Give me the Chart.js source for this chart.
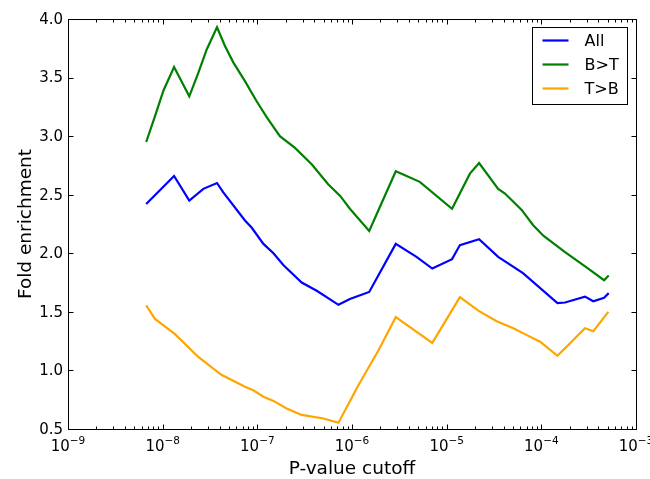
<!DOCTYPE html>
<html>
<head>
<meta charset="utf-8">
<script src="https://cdn.jsdelivr.net/npm/chart.js@4.4.1/dist/chart.umd.min.js"></script>
<style>
  html, body { margin: 0; padding: 0; background: #fff; }
  canvas { display: block; }
</style>
</head>
<body>
<canvas id="chart" width="650" height="479"></canvas>
<script>
// ─── DATA ───────────────────────────────────────────────────────────────────
const ALL_P = [6.7e-9, 1.32e-8, 1.91e-8, 2.69e-8, 3.75e-8, 4.37e-8, 7.4e-8, 8.7e-8,
  1.16e-7, 1.48e-7, 1.88e-7, 2.94e-7, 4.24e-7, 7.2e-7, 9.5e-7, 1.52e-6, 2.9e-6,
  4.8e-6, 7.05e-6, 1.14e-5, 1.38e-5, 2.2e-5, 3.5e-5, 6.4e-5, 1.48e-4, 1.78e-4,
  2.89e-4, 3.54e-4, 4.6e-4, 5.15e-4];
const ALL_Y = [2.42, 2.66, 2.45, 2.55, 2.60, 2.52, 2.28, 2.22,
  2.08, 2.00, 1.90, 1.75, 1.68, 1.56, 1.61, 1.67, 2.08,
  1.97, 1.87, 1.95, 2.07, 2.12, 1.97, 1.83, 1.575, 1.58,
  1.63, 1.59, 1.62, 1.66];

const BT_P = [6.7e-9, 8.3e-9, 1.02e-8, 1.32e-8, 1.91e-8, 2.38e-8, 2.92e-8, 3.75e-8,
  4.55e-8, 5.57e-8, 7.4e-8, 9.8e-8, 1.26e-7, 1.73e-7, 2.5e-7, 3.75e-7, 5.6e-7,
  7.5e-7, 9.5e-7, 1.52e-6, 2.9e-6, 5.2e-6, 1.14e-5, 1.76e-5, 2.2e-5, 3.5e-5,
  4.13e-5, 6.2e-5, 8.2e-5, 1.05e-4, 1.78e-4, 3.0e-4, 4.6e-4, 5.15e-4];
const BT_Y = [2.95, 3.17, 3.39, 3.59, 3.34, 3.54, 3.74, 3.93,
  3.77, 3.63, 3.47, 3.30, 3.16, 3.00, 2.90, 2.76, 2.59,
  2.49, 2.38, 2.19, 2.70, 2.61, 2.38, 2.68, 2.77, 2.55,
  2.51, 2.37, 2.24, 2.15, 2.01, 1.88, 1.77, 1.81];

const TB_P = [6.7e-9, 8.3e-9, 1.35e-8, 2.38e-8, 4.13e-8, 7.4e-8, 9.06e-8, 1.16e-7,
  1.48e-7, 2.04e-7, 2.94e-7, 4.98e-7, 7.2e-7, 1.16e-6, 1.9e-6, 2.9e-6, 7.05e-6,
  1.38e-5, 2.16e-5, 3.37e-5, 5.06e-5, 6.7e-5, 9.7e-5, 1.48e-4, 2.0e-4, 2.89e-4,
  3.54e-4, 5.1e-4];
const TB_Y = [1.555, 1.44, 1.31, 1.115, 0.965, 0.86, 0.83, 0.775,
  0.74, 0.675, 0.62, 0.59, 0.553, 0.87, 1.17, 1.455, 1.235,
  1.625, 1.51, 1.42, 1.36, 1.31, 1.245, 1.125, 1.23, 1.36,
  1.335, 1.50];

const SERIES_LABELS = ['All', 'B>T', 'T>B'];
const SERIES_COLORS = ['#0000ff', '#008000', '#ffa500'];

const X_EXPONENTS = [-9, -8, -7, -6, -5, -4, -3];
const Y_TICKS = [0.5, 1.0, 1.5, 2.0, 2.5, 3.0, 3.5, 4.0];

const X_TITLE = 'P-value cutoff';
const Y_TITLE = 'Fold enrichment';

const FONT = '"DejaVu Sans", sans-serif';

const toPoints = (xs, ys) => xs.map((x, i) => ({ x, y: ys[i] }));

// ─── matplotlib-style frame: inward ticks on all sides, mathtext labels ─────
const framePlugin = {
  id: 'mplFrame',
  afterDraw(chart) {
    const { ctx, chartArea: a, scales } = chart;
    const xs = scales.x, ys = scales.y;
    const L = a.left + 0.5, R = a.right + 0.5, T = a.top + 0.5, B = a.bottom + 0.5;
    const MAJ = 5, MIN = 3;

    ctx.save();
    ctx.strokeStyle = '#000';
    ctx.lineWidth = 1;
    ctx.strokeRect(L, T, R - L, B - T);

    ctx.beginPath();
    // x ticks (major + minor), bottom and top
    X_EXPONENTS.forEach((e, k) => {
      const px = Math.round(xs.getPixelForValue(Math.pow(10, e))) + 0.5;
      ctx.moveTo(px, B); ctx.lineTo(px, B - MAJ);
      ctx.moveTo(px, T); ctx.lineTo(px, T + MAJ);
      if (k === X_EXPONENTS.length - 1) return;
      for (let m = 2; m <= 9; m++) {
        const mx = Math.round(xs.getPixelForValue(m * Math.pow(10, e))) + 0.5;
        ctx.moveTo(mx, B); ctx.lineTo(mx, B - MIN);
        ctx.moveTo(mx, T); ctx.lineTo(mx, T + MIN);
      }
    });
    // y ticks, left and right
    Y_TICKS.forEach(v => {
      const py = Math.round(ys.getPixelForValue(v)) + 0.5;
      ctx.moveTo(L, py); ctx.lineTo(L + MAJ, py);
      ctx.moveTo(R, py); ctx.lineTo(R - MAJ, py);
    });
    ctx.stroke();

    ctx.fillStyle = '#000';
    // y tick labels
    ctx.font = `15px ${FONT}`;
    ctx.textAlign = 'right';
    ctx.textBaseline = 'middle';
    Y_TICKS.forEach(v => {
      ctx.fillText(v.toFixed(1), a.left - 5, ys.getPixelForValue(v) + 1);
    });

    // x tick labels: 10 with superscript exponent
    ctx.textBaseline = 'alphabetic';
    ctx.textAlign = 'left';
    X_EXPONENTS.forEach(e => {
      const px = xs.getPixelForValue(Math.pow(10, e));
      const base = '10', sup = '\u2212' + Math.abs(e);
      ctx.font = `15px ${FONT}`;
      const wb = ctx.measureText(base).width;
      ctx.font = `10.5px ${FONT}`;
      const ws = ctx.measureText(sup).width;
      const x0 = px - (wb + ws) / 2;
      ctx.font = `15px ${FONT}`;
      ctx.fillText(base, x0, a.bottom + 22);
      ctx.font = `10.5px ${FONT}`;
      ctx.fillText(sup, x0 + wb, a.bottom + 15);
    });

    // axis titles
    ctx.font = `18.5px ${FONT}`;
    ctx.textAlign = 'center';
    ctx.textBaseline = 'alphabetic';
    ctx.fillText(X_TITLE, (a.left + a.right) / 2, a.bottom + 45);
    ctx.save();
    ctx.translate(31, (a.top + a.bottom) / 2);
    ctx.rotate(-Math.PI / 2);
    ctx.fillText(Y_TITLE, 0, 0);
    ctx.restore();

    // legend box (upper right, inside axes)
    const lx = a.right - 103.5, ly = a.top + 8.5, lw = 95, lh = 77;
    ctx.fillStyle = '#fff';
    ctx.fillRect(lx, ly, lw, lh);
    ctx.strokeStyle = '#000';
    ctx.lineWidth = 1;
    ctx.strokeRect(lx, ly, lw, lh);
    ctx.font = `16px ${FONT}`;
    ctx.textAlign = 'left';
    ctx.textBaseline = 'middle';
    chart.data.datasets.forEach((ds, i) => {
      const ry = ly + 13 + i * 24;
      ctx.strokeStyle = ds.borderColor;
      ctx.lineWidth = 2.2;
      ctx.beginPath();
      ctx.moveTo(lx + 10, ry);
      ctx.lineTo(lx + 36, ry);
      ctx.stroke();
      ctx.fillStyle = '#000';
      ctx.fillText(ds.label, lx + 52, ry + 1);
    });
    ctx.restore();
  },
};

const seriesData = [toPoints(ALL_P, ALL_Y), toPoints(BT_P, BT_Y), toPoints(TB_P, TB_Y)];

new Chart(document.getElementById('chart'), {
  type: 'scatter',
  data: {
    datasets: SERIES_LABELS.map((label, i) => ({
      label,
      data: seriesData[i],
      showLine: true,
      borderColor: SERIES_COLORS[i],
      backgroundColor: SERIES_COLORS[i],
      borderWidth: 2.2,
      pointRadius: 0,
      pointHoverRadius: 0,
      tension: 0,
    })),
  },
  options: {
    responsive: false,
    animation: false,
    devicePixelRatio: 1,
    layout: { padding: { left: 68, right: 14, top: 19, bottom: 50 } },
    scales: {
      x: { type: 'logarithmic', min: 1e-9, max: 1e-3, display: false },
      y: { type: 'linear', min: 0.5, max: 4.0, display: false },
    },
    plugins: {
      legend: { display: false },
      tooltip: { enabled: false },
    },
  },
  plugins: [framePlugin],
});
</script>
</body>
</html>
